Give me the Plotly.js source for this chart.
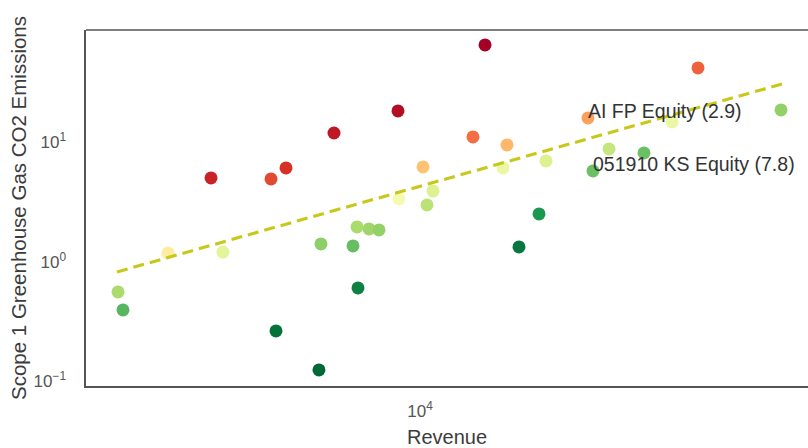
<!DOCTYPE html>
<html>
<head>
<meta charset="utf-8">
<script src="https://cdn.plot.ly/plotly-3.0.1.min.js"></script>
<style>html,body{margin:0;padding:0;background:#fff;overflow:hidden;}</style>
</head>
<body>
<div id="chart" style="width:808px;height:448px;"></div>
<script>
// Revenue (x), Scope 1 GHG CO2 emissions (y), colour intensity (0 = green, 1 = red)
const revenue = [14540, 8810, 6095, 3003, 4624, 4242, 49545, 13565, 26300, 16500,
                 10174, 2344, 8861, 16128, 42658, 3217, 10777, 20654, 10411, 29683,
                 1758, 6960, 7457, 7898, 5655, 79890, 6800, 27070, 36308, 1809,
                 19840, 6998, 17680, 4365, 5590];
const emissions = [65.5, 18.35, 12.0, 5.05, 6.12, 4.95, 42.0, 11.12, 16.03, 9.53,
                   6.24, 1.19, 3.37, 6.12, 14.85, 1.21, 3.93, 7.0, 3.0, 8.82,
                   0.561, 1.963, 1.889, 1.853, 1.415, 18.7, 1.361, 5.78, 8.17, 0.3965,
                   2.522, 0.606, 1.335, 0.2646, 0.1248];
const intensity = [1.0, 0.97, 0.95, 0.93, 0.9, 0.86, 0.82, 0.8, 0.72, 0.68,
                   0.66, 0.56, 0.47, 0.45, 0.45, 0.43, 0.41, 0.41, 0.34, 0.36,
                   0.31, 0.31, 0.29, 0.27, 0.26, 0.27, 0.2, 0.21, 0.21, 0.18,
                   0.1, 0.05, 0.03, 0.02, 0.0];
// trend line endpoints (log-log fit)
const trendX = [1748, 80353];
const trendY = [0.825, 30.87];
// tick labels
const xTickVals = [10000];
const xTickText = ['10<sup>4</sup>'];
const yTickVals = [0.1, 1, 10];
const yTickText = ['10<sup>\u22121</sup>', '10<sup>0</sup>', '10<sup>1</sup>'];
// labelled points
const labelText = ["AI FP Equity (2.9)", "051910 KS Equity (7.8)"];
const labelIndex = [8, 27];

const rdylgn_r = [
  [0.0, '#006837'], [0.1, '#1a9850'], [0.2, '#66bd63'], [0.3, '#a6d96a'],
  [0.4, '#d9ef8b'], [0.5, '#ffffbf'], [0.6, '#fee08b'], [0.7, '#fdae61'],
  [0.8, '#f46d43'], [0.9, '#d73027'], [1.0, '#a50026']
];

const FONT = '"Liberation Sans", Arial, Helvetica, sans-serif';

const traces = [
  {
    x: revenue, y: emissions, type: 'scatter', mode: 'markers',
    marker: {size: 13, color: intensity, colorscale: rdylgn_r, cmin: 0, cmax: 1,
             line: {width: 0}},
    hoverinfo: 'x+y', showlegend: false
  },
  {
    x: trendX, y: trendY, type: 'scatter', mode: 'lines',
    line: {color: '#c8c81c', width: 3.2, dash: '11px,6px'},
    hoverinfo: 'skip', showlegend: false
  }
];

const annotations = labelIndex.map((idx, k) => ({
  x: Math.log10(revenue[idx]), y: Math.log10(emissions[idx]),
  xref: 'x', yref: 'y', text: labelText[k], showarrow: false,
  xanchor: 'left', yanchor: 'bottom', xshift: -2, yshift: -6,
  font: {family: FONT, size: 19.5, color: '#333333'}
}));

const layout = {
  width: 808, height: 448,
  margin: {l: 86, r: 0, t: 30, b: 62},
  paper_bgcolor: '#ffffff', plot_bgcolor: '#ffffff',
  font: {family: FONT},
  xaxis: {
    type: 'log', range: [3.165, 4.97], tickmode: 'array', tickvals: xTickVals, ticktext: xTickText,
    showgrid: false, zeroline: false, showline: true, linecolor: '#555555', linewidth: 1.6,
    ticks: 'outside', ticklen: 9, tickcolor: 'rgba(0,0,0,0)',
    tickfont: {family: FONT, size: 17, color: '#555555'},
    title: {text: 'Revenue', font: {family: FONT, size: 20, color: '#3c3c3c'}, standoff: 10},
    automargin: false
  },
  yaxis: {
    type: 'log', range: [-1.038, 1.941], tickmode: 'array', tickvals: yTickVals, ticktext: yTickText,
    showgrid: false, zeroline: false, showline: true, linecolor: '#555555', linewidth: 1.6,
    ticks: 'outside', ticklen: 15, tickcolor: 'rgba(0,0,0,0)',
    tickfont: {family: FONT, size: 17, color: '#555555'},
    title: {text: 'Scope 1 Greenhouse Gas CO2 Emissions', font: {family: FONT, size: 20.5, color: '#3c3c3c'}, standoff: 1},
    automargin: false
  },
  shapes: [
    {type: 'line', xref: 'paper', yref: 'paper', x0: 0, x1: 1, y0: 1, y1: 1,
     line: {color: '#555555', width: 1.6}}
  ],
  annotations: annotations
};

Plotly.newPlot('chart', traces, layout, {displayModeBar: false, staticPlot: true});
</script>
</body>
</html>
